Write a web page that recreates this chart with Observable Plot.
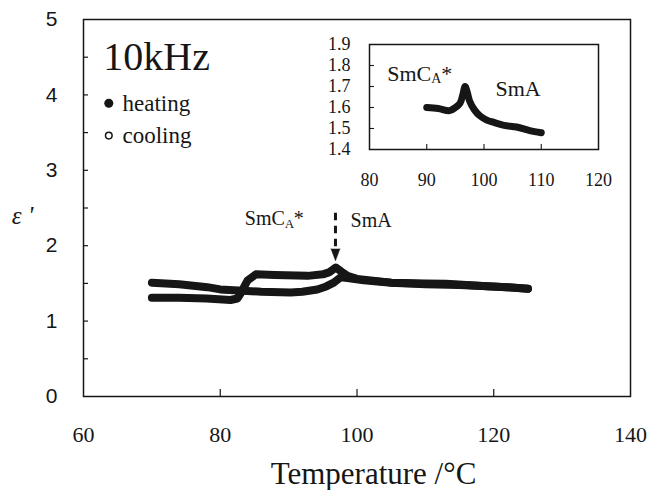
<!DOCTYPE html>
<html><head><meta charset="utf-8">
<script src="https://cdn.jsdelivr.net/npm/d3@7"></script>
<script src="https://cdn.jsdelivr.net/npm/@observablehq/plot@0.6"></script>
<style>
body{margin:0;background:#fff;}
#wrap{position:relative;width:648px;height:490px;background:#fff;}
#wrap svg{position:absolute;}
#wrap svg text{font-family:'Liberation Serif','Times New Roman',serif;}
#wrap svg text.sans, #wrap svg .sans text{font-family:'Liberation Sans',Arial,sans-serif;}
</style></head><body><div id="wrap"></div>
<script>
// ---- main chart data (Temperature °C, ε') ----
const heatingT = [70, 74, 78, 81.5, 82.5, 83, 84, 85.2, 88, 92.8, 95, 96, 96.9, 97.8, 98.6, 100, 103, 105, 110, 113, 116, 119.5, 122, 125];
const heatingE = [1.31, 1.31, 1.30, 1.28, 1.30, 1.37, 1.54, 1.62, 1.61, 1.60, 1.62, 1.65, 1.71, 1.65, 1.60, 1.56, 1.53, 1.51, 1.50, 1.495, 1.48, 1.46, 1.45, 1.43];
const coolingT = [125, 120, 115, 110, 105, 101, 98.6, 97.6, 96.6, 95.5, 94.2, 92, 90.3, 86, 82, 80, 78.1, 74, 70];
const coolingE = [1.43, 1.46, 1.48, 1.49, 1.51, 1.54, 1.57, 1.58, 1.51, 1.46, 1.42, 1.39, 1.38, 1.39, 1.41, 1.42, 1.45, 1.49, 1.51];
const xTicks = [60, 80, 100, 120, 140];
const xInnerTicks = [80, 100, 120];
const yTicks = [0, 1, 2, 3, 4, 5];
const yInnerTicks = [0.5, 1, 1.5, 2, 2.5, 3, 3.5, 4, 4.5];
const xTitle = "Temperature /°C";
const yTitle = "ε '";
const freqLabel = "10kHz";
const legendLabels = ["heating", "cooling"];
const legendE = [3.89, 3.46];
const transitionT = 96.85;     // arrow position
const arrowTopE = 2.43, arrowBaseE = 1.96;
const phaseLow = "SmC", phaseSub = "A", phaseStar = "*", phaseHigh = "SmA";

// ---- inset data ----
const insetT = [90, 92, 94, 95, 95.8, 96.3, 96.7, 97.1, 97.5, 98.3, 99.3, 100.5, 101.6, 103.5, 105.7, 108, 110];
const insetE = [1.60, 1.595, 1.585, 1.60, 1.62, 1.66, 1.70, 1.67, 1.63, 1.59, 1.56, 1.54, 1.53, 1.515, 1.507, 1.49, 1.48];
const insetXTicks = [80, 90, 100, 110, 120];
const insetXInner = [90, 100, 110];
const insetYTicks = [1.4, 1.5, 1.6, 1.7, 1.8, 1.9];
const insetYInner = [1.5, 1.6, 1.7, 1.8];

const serif = "Liberation Serif";
const sans = "Liberation Sans";
const ink = "#161616";

const heating = heatingT.map((T, i) => ({T, e: heatingE[i]}));
const cooling = coolingT.map((T, i) => ({T, e: coolingE[i]}));
const inset = insetT.map((T, i) => ({T, e: insetE[i]}));

const W = 648, H = 490, mL = 83, mR = 18, mT = 19, mB = 94;
const fw = W - mL - mR, fh = H - mT - mB;
const lineStyle = {x: "T", y: "e", stroke: ink, strokeWidth: 8, strokeLinecap: "round", strokeLinejoin: "round", curve: "linear"};
const tx = (o) => ({fontFamily: serif, fill: ink, ...o});

const main = Plot.plot({
  width: W, height: H,
  marginLeft: mL, marginRight: mR, marginTop: mT, marginBottom: mB,
  style: {fontFamily: serif, background: "transparent", color: ink},
  x: {domain: [60, 140]},
  y: {domain: [0, 5]},
  marks: [
    Plot.ruleX(xInnerTicks, {x: d => d, insetTop: fh - 7, stroke: ink, strokeWidth: 1.2}),
    Plot.ruleY(yInnerTicks, {y: d => d, insetRight: fw - 5, stroke: ink, strokeWidth: 1.2}),
    Plot.frame({stroke: ink, strokeWidth: 1.5}),
    Plot.axisX({ticks: xTicks, tickSize: 0, tickPadding: 30, fontSize: 22, fontFamily: serif, label: null}),
    Plot.axisY({ticks: yTicks, tickSize: 0, tickPadding: 26, fontSize: 21, fontFamily: sans, className: "sans", tickFormat: d3.format("d"), label: null}),
    Plot.text([xTitle], tx({frameAnchor: "bottom", dx: 16.5, dy: 78, lineAnchor: "middle", textAnchor: "middle", fontSize: 31})),
    Plot.text([yTitle], tx({frameAnchor: "left", y: [2.4], dx: -61, textAnchor: "middle", fontSize: 25, fontStyle: "italic"})),
    Plot.line(heating, lineStyle),
    Plot.line(cooling, lineStyle),
    Plot.ruleX([transitionT], {x: d => d, y1: arrowTopE, y2: arrowBaseE, stroke: ink, strokeWidth: 3, strokeDasharray: "7.5,5.5"}),
    Plot.vector([transitionT], {x: d => d, y: arrowBaseE, shape: "spike", anchor: "start", rotate: 180, length: 12, r: 4.5, fill: ink, stroke: ink, strokeWidth: 0.5}),
    Plot.text([phaseLow], tx({x: [83.6], y: [2.36], textAnchor: "start", fontSize: 20})),
    Plot.text([phaseSub], tx({x: [83.6], y: [2.36], dx: 40, dy: 5, textAnchor: "start", fontSize: 13})),
    Plot.text([phaseStar], tx({x: [83.6], y: [2.36], dx: 49, textAnchor: "start", fontSize: 20})),
    Plot.text([phaseHigh], tx({x: [99.05], y: [2.335], textAnchor: "start", fontSize: 20})),
    Plot.text([freqLabel], tx({x: [62.9], y: [4.5], textAnchor: "start", fontSize: 40})),
    Plot.dot([legendE[0]], {x: [63.7], y: d => d, r: 4.5, fill: ink, stroke: null}),
    Plot.dot([legendE[1]], {x: [63.7], y: d => d, r: 3.3, fill: "white", stroke: ink, strokeWidth: 1.5}),
    Plot.text(legendLabels, tx({x: [65.7, 65.7], y: legendE, text: d => d, textAnchor: "start", fontSize: 23}))
  ]
});
main.style.left = "0px"; main.style.top = "0px";

// ---- inset ----
const iL = 320, iTop = 25, iW = 300, iH = 175;
const imL = 369 - iL, imR = iL + iW - 598, imT = 44 - iTop, imB = iTop + iH - 149;
const ifw = iW - imL - imR, ifh = iH - imT - imB;
const insetPlot = Plot.plot({
  width: iW, height: iH,
  marginLeft: imL, marginRight: imR, marginTop: imT, marginBottom: imB,
  style: {fontFamily: serif, background: "transparent", color: ink, overflow: "visible"},
  x: {domain: [80, 120]},
  y: {domain: [1.4, 1.9]},
  marks: [
    Plot.frame({fill: "white", stroke: null}),
    Plot.ruleX(insetXInner, {x: d => d, insetTop: ifh - 5, stroke: ink, strokeWidth: 1.1}),
    Plot.ruleY(insetYInner, {y: d => d, insetRight: ifw - 5, stroke: ink, strokeWidth: 1.1}),
    Plot.frame({stroke: ink, strokeWidth: 1.5}),
    Plot.axisX({ticks: insetXTicks, tickSize: 0, tickPadding: 24, fontSize: 18, fontFamily: serif, label: null}),
    Plot.axisY({ticks: insetYTicks, tickSize: 0, tickPadding: 19, fontSize: 18, fontFamily: serif, tickFormat: d3.format(".1f"), label: null}),
    Plot.line(inset, {x: "T", y: "e", stroke: ink, strokeWidth: 7, strokeLinecap: "round", strokeLinejoin: "round", curve: "catmull-rom"}),
    Plot.text([phaseLow], tx({x: [83.1], y: [1.762], textAnchor: "start", fontSize: 22})),
    Plot.text([phaseSub], tx({x: [83.1], y: [1.762], dx: 44, dy: 5, textAnchor: "start", fontSize: 14})),
    Plot.text([phaseStar], tx({x: [83.1], y: [1.762], dx: 54, textAnchor: "start", fontSize: 22})),
    Plot.text([phaseHigh], tx({x: [102], y: [1.69], textAnchor: "start", fontSize: 22}))
  ]
});
insetPlot.style.left = iL + "px"; insetPlot.style.top = iTop + "px";

const wrap = document.getElementById("wrap");
wrap.appendChild(main);
wrap.appendChild(insetPlot);
</script>
</body></html>
